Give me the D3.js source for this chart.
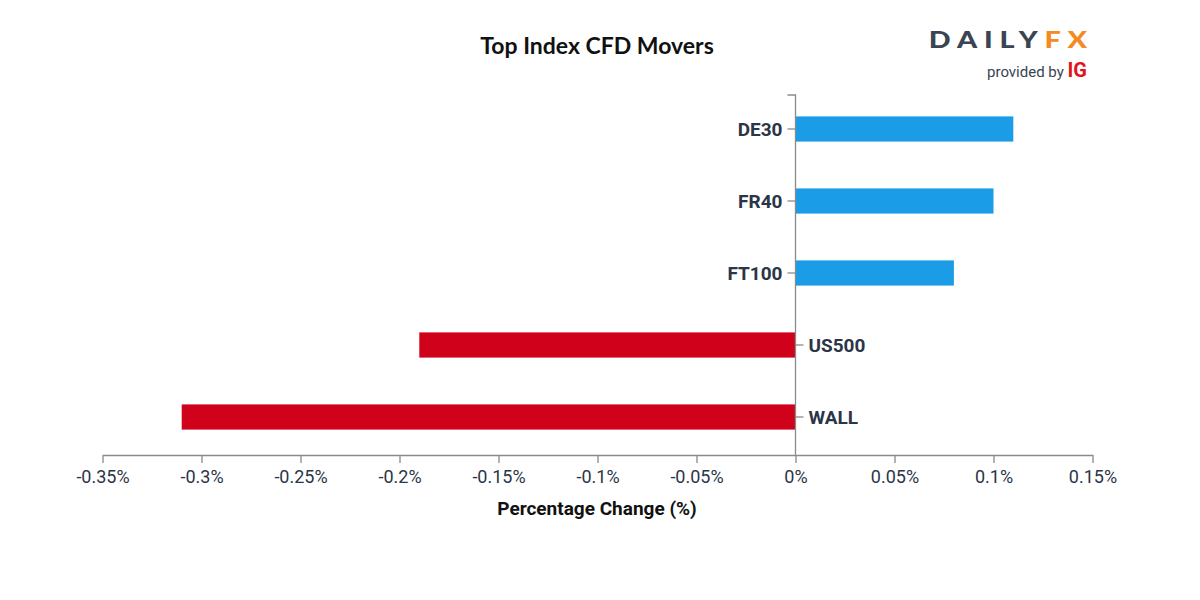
<!DOCTYPE html>
<html>
<head>
<meta charset="utf-8">
<script src="https://cdn.jsdelivr.net/npm/d3@7"></script>
<style>
  body { margin: 0; background: #fff; }
  text { font-family: Roboto, "Noto Sans", sans-serif; }
</style>
</head>
<body>
<div id="chart"></div>
<script>
// data
var markets = ["DE30", "FR40", "FT100", "US500", "WALL"];
var changes = [0.11, 0.10, 0.08, -0.19, -0.31];
var xTicks = [-0.35, -0.3, -0.25, -0.2, -0.15, -0.1, -0.05, 0, 0.05, 0.1, 0.15];

var width = 1200, height = 600;
var plot = { left: 102.5, right: 1092.5, top: 95, bottom: 455 };

var svg = d3.select("#chart")
    .append("svg")
    .attr("width", width)
    .attr("height", height);

var x = d3.scaleLinear()
    .domain([-0.35, 0.15])
    .range([plot.left, plot.right]);

var y = d3.scaleBand()
    .domain(markets)
    .range([plot.top - 2, plot.bottom - 2])
    .paddingInner(0.65)
    .paddingOuter(0.325);

var rows = markets.map(function (m, i) { return { name: m, value: changes[i] }; });

// bars
svg.selectAll("rect.bar")
    .data(rows)
    .enter()
    .append("rect")
    .attr("class", "bar")
    .attr("x", function (d) { return x(Math.min(0, d.value)); })
    .attr("y", function (d) { return y(d.name); })
    .attr("width", function (d) { return Math.abs(x(d.value) - x(0)); })
    .attr("height", y.bandwidth())
    .attr("fill", function (d) { return d.value >= 0 ? "#1a9de6" : "#d0021b"; });

// x axis
var xAxis = svg.append("g")
    .attr("transform", "translate(0," + plot.bottom + ")")
    .call(d3.axisBottom(x)
        .tickValues(xTicks)
        .tickSize(8)
        .tickSizeOuter(0)
        .tickFormat(function (d) { return (+d.toFixed(2)) + "%"; }));
xAxis.select(".domain").attr("stroke", "#8a8a8a").attr("stroke-width", 1.3);
xAxis.selectAll(".tick line").attr("stroke", "#8a8a8a").attr("stroke-width", 1.3);
xAxis.selectAll(".tick text")
    .attr("dy", "0")
    .attr("y", 28)
    .style("font-family", "Roboto, sans-serif")
    .style("font-size", "18px")
    .attr("fill", "#2b3547");

// y axis at zero
var x0 = x(0);
svg.append("path")
    .attr("d", "M" + (x0 - 8) + "," + plot.top + "H" + x0 + "V" + plot.bottom)
    .attr("fill", "none")
    .attr("stroke", "#8a8a8a")
    .attr("stroke-width", 1.3);

var yTick = svg.selectAll("g.ytick")
    .data(rows)
    .enter()
    .append("g")
    .attr("class", "ytick")
    .attr("transform", function (d) { return "translate(" + x0 + "," + (y(d.name) + y.bandwidth() / 2) + ")"; });

yTick.append("line")
    .attr("x1", function (d) { return d.value >= 0 ? -8 : 8; })
    .attr("x2", 0)
    .attr("stroke", "#8a8a8a")
    .attr("stroke-width", 1.3);

yTick.append("text")
    .attr("x", function (d) { return d.value >= 0 ? -13 : 13; })
    .attr("dy", "0.35em")
    .attr("text-anchor", function (d) { return d.value >= 0 ? "end" : "start"; })
    .style("font-size", "19px")
    .style("font-weight", "700")
    .attr("fill", "#2b3547")
    .text(function (d) { return d.name; });

// titles
svg.append("text")
    .attr("x", 597)
    .attr("y", 54)
    .attr("text-anchor", "middle")
    .style("font-family", "Lato, sans-serif")
    .style("font-size", "23px")
    .style("font-weight", "700")
    .attr("fill", "#111")
    .text("Top Index CFD Movers");

svg.append("text")
    .attr("x", 597)
    .attr("y", 515)
    .attr("text-anchor", "middle")
    .style("font-size", "19px")
    .style("font-weight", "700")
    .attr("fill", "#111")
    .text("Percentage Change (%)");

// logo
var brand = svg.append("text")
    .attr("transform", "translate(1094,48) scale(1.25,1)")
    .attr("text-anchor", "end")
    .style("font-family", "Lato, sans-serif")
    .style("font-size", "23px")
    .style("font-weight", "900")
    .style("letter-spacing", "5.5px");
brand.append("tspan").attr("fill", "#3a4452").text("DAILY");
brand.append("tspan").attr("fill", "#f58a1f").text("FX");

var sub = svg.append("text")
    .attr("x", 1087)
    .attr("y", 77)
    .attr("text-anchor", "end");
sub.append("tspan")
    .attr("fill", "#3a4452")
    .style("font-size", "15px")
    .text("provided by ");
sub.append("tspan")
    .attr("fill", "#e3131c")
    .style("font-size", "20px")
    .style("font-weight", "700")
    .text("IG");
</script>
</body>
</html>
